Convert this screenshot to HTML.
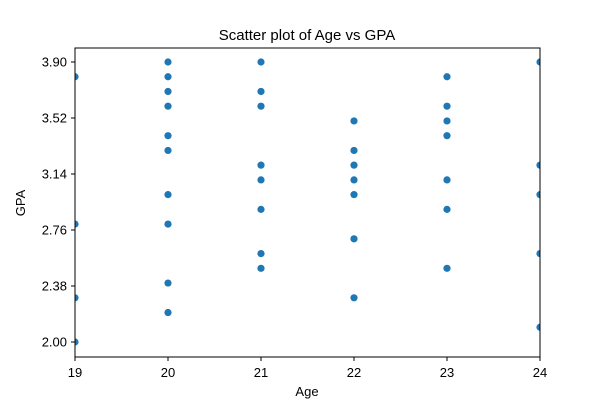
<!DOCTYPE html>
<html><head><meta charset="utf-8"><style>
body{margin:0;background:#fff;font-family:"Liberation Sans",sans-serif}
</style></head><body>
<svg width="600" height="400" xmlns="http://www.w3.org/2000/svg" font-family="Liberation Sans, sans-serif">
<defs><clipPath id="plotclip"><rect x="75" y="48" width="465" height="309"/></clipPath></defs>
<rect width="600" height="400" fill="#fff"/>
<text x="307" y="40" text-anchor="middle" font-size="15">Scatter plot of Age vs GPA</text>
<g id="ticks"></g>
<g id="points" clip-path="url(#plotclip)"></g>
<rect x="75" y="48" width="465" height="309" fill="none" stroke="#000" stroke-width="1"/>
<text x="307" y="396" text-anchor="middle" font-size="13">Age</text>
<text x="25" y="203" text-anchor="middle" font-size="13" transform="rotate(-90 25 203)">GPA</text>
</svg>
<script>
const ages=[19,19,19,19,20,20,20,20,20,20,20,20,20,20,21,21,21,21,21,21,21,21,22,22,22,22,22,22,22,23,23,23,23,23,23,23,24,24,24,24,24];
const gpas=[3.8,2.8,2.3,2.0,3.9,3.8,3.7,3.6,3.4,3.3,3.0,2.8,2.4,2.2,3.9,3.7,3.6,3.2,3.1,2.9,2.6,2.5,3.5,3.3,3.2,3.1,3.0,2.7,2.3,3.8,3.6,3.5,3.4,3.1,2.9,2.5,3.9,3.2,3.0,2.6,2.1];
const xTicks=[19,20,21,22,23,24];
const yTicks=[2.00,2.38,2.76,3.14,3.52,3.90];
const NS="http://www.w3.org/2000/svg";
const xs=v=>75+(v-19)*(465/5);
const ys=v=>342-(v-2.0)*(280/1.9);
const tg=document.getElementById('ticks'),pg=document.getElementById('points');
xTicks.forEach(t=>{
const l=document.createElementNS(NS,'line');l.setAttribute('x1',xs(t));l.setAttribute('x2',xs(t));l.setAttribute('y1',357);l.setAttribute('y2',361);l.setAttribute('stroke','#000');


tg.appendChild(l);
const tx=document.createElementNS(NS,'text');tx.setAttribute('x',xs(t));tx.setAttribute('y',377);tx.setAttribute('text-anchor','middle');tx.setAttribute('font-size','13');tx.textContent=t;


tg.appendChild(tx);});
yTicks.forEach(t=>{
const l=document.createElementNS(NS,'line');l.setAttribute('x1',71);l.setAttribute('x2',75);l.setAttribute('y1',ys(t));l.setAttribute('y2',ys(t));l.setAttribute('stroke','#000');


tg.appendChild(l);
const tx=document.createElementNS(NS,'text');tx.setAttribute('x',67);tx.setAttribute('y',ys(t)+4.5);tx.setAttribute('text-anchor','end');tx.setAttribute('font-size','13');tx.textContent=t.toFixed(2);


tg.appendChild(tx);});
ages.forEach((a,i)=>{
const c=document.createElementNS(NS,'circle');c.setAttribute('cx',xs(a));c.setAttribute('cy',ys(gpas[i]));c.setAttribute('r',3.6);c.setAttribute('fill','#1f77b4');


pg.appendChild(c);});
</script>
</body></html>
